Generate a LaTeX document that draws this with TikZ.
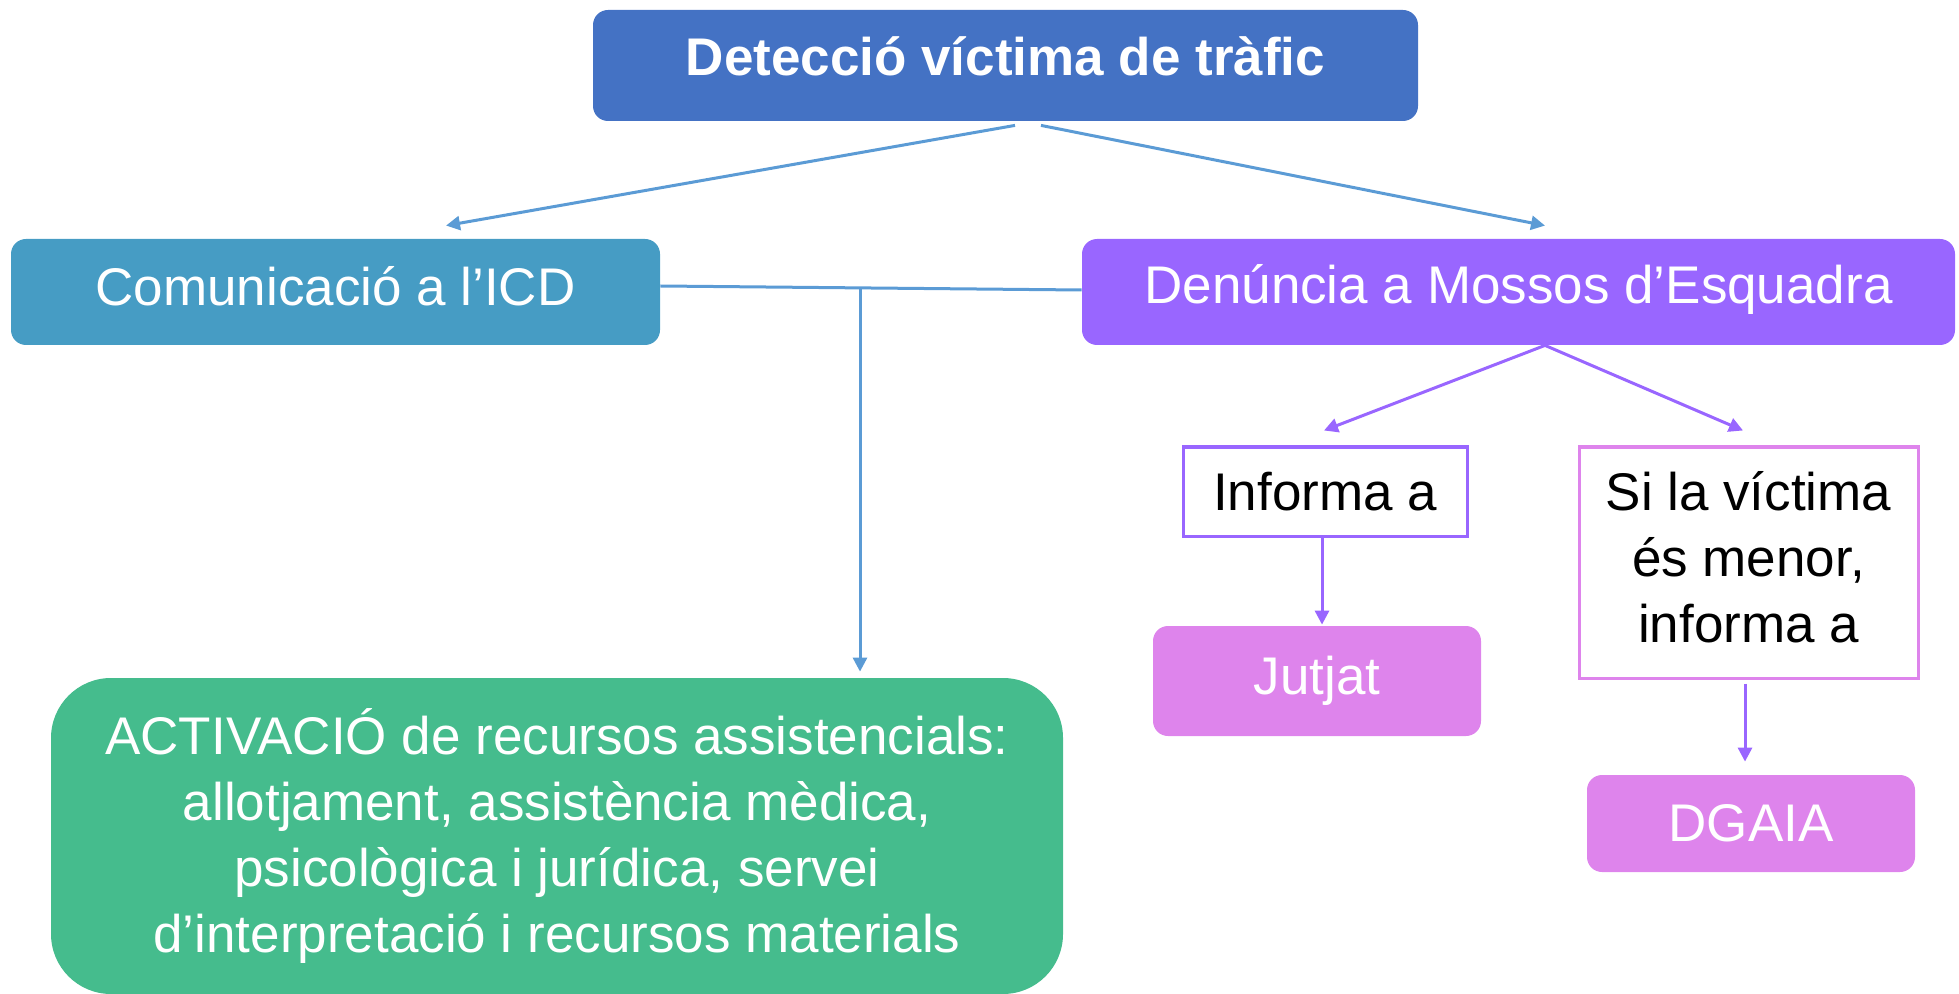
\documentclass[tikz,border=0pt]{standalone}
\usepackage{fontspec}
\setmainfont{Liberation Sans}
\usetikzlibrary{arrows.meta}
\definecolor{topblue}{HTML}{4472C4}
\definecolor{icdblue}{HTML}{469CC4}
\definecolor{lineblue}{HTML}{5B9BD5}
\definecolor{mossos}{HTML}{9966FF}
\definecolor{pink}{HTML}{DE84EC}
\definecolor{green}{HTML}{45BC8D}
\tikzset{
  box/.style={rectangle,rounded corners=7.5pt,text=white,inner sep=0pt,align=center,
    font=\fontsize{26.5pt}{33pt}\selectfont},
  note/.style={rectangle,fill=white,text=black,line width=1.5pt,inner sep=0pt,align=center,
    font=\fontsize{26.5pt}{33pt}\selectfont},
  link/.style={line width=1.5pt,-{Triangle[length=7pt,width=7pt]}},
}
\begin{document}
\begin{tikzpicture}[x=0.5pt,y=-0.5pt]
\useasboundingbox (0,0) rectangle (1959,994);
\node (top) [box,fill=topblue,minimum width=412.5pt,minimum height=55.5pt,text depth=9pt,
  font=\fontsize{26.5pt}{33pt}\selectfont\bfseries] at (1005.5,65.5) {Detecció víctima de tràfic};
\node (icd) [box,fill=icdblue,minimum width=324.5pt,minimum height=53pt,text depth=6pt] at (335.5,292) {Comunicació a l’ICD};
\node (den) [box,fill=mossos,minimum width=436.5pt,minimum height=53pt,text depth=8pt] at (1518.5,292) {Denúncia a Mossos d’Esquadra};
\node (info) [note,draw=mossos,minimum width=142pt,minimum height=44.5pt] at (1325,491.5) {Informa a};
\node (menor) [note,draw=pink,minimum width=169.5pt,minimum height=115.5pt,text depth=6pt] at (1748.5,562.5) {Si la víctima\\és menor,\\informa a};
\node (jutjat) [box,fill=pink,minimum width=164pt,minimum height=55pt] at (1317,681) {Jutjat};
\node (dgaia) [box,fill=pink,minimum width=164pt,minimum height=48.5pt] at (1751,823.5) {DGAIA};
\node (act) [box,fill=green,rounded corners=30pt,minimum width=506pt,minimum height=158pt] at (557,836)
  {ACTIVACIÓ de recursos assistencials:\\allotjament, assistència mèdica,\\psicològica i jurídica, servei\\d’interpretació i recursos materials};

% from the detection
\draw [link,lineblue] ([xshift=4.75pt,yshift=-2pt]top.south) -- ([xshift=55.25pt,yshift=6.5pt]icd.north);
\draw [link,lineblue] ([xshift=17.75pt,yshift=-2pt]top.south) -- ([xshift=13.25pt,yshift=6.5pt]den.north);

% ICD and Mossos
\draw [line width=1.5pt,lineblue] ([yshift=3pt]icd.east) -- ([yshift=1pt]den.west);
\coordinate (split) at (860,288);
\draw [link,lineblue,shorten >=3pt] (split) -- (split |- act.north);

% Mossos informs
\draw [link,mossos] ([xshift=13.25pt]den.south) -- ([xshift=-0.5pt,yshift=7.5pt]info.north);
\draw [link,mossos] ([xshift=13.25pt]den.south) -- ([xshift=-2.75pt,yshift=7.5pt]menor.north);
\draw [link,mossos,shorten >=0.5pt] ([xshift=-1.5pt]info.south) -- ([xshift=-1.5pt]info.south |- jutjat.north);
\draw [link,mossos,shorten <=2pt,shorten >=6.5pt] ([xshift=-1.75pt]menor.south) -- ([xshift=-1.75pt]menor.south |- dgaia.north);
\end{tikzpicture}
\end{document}
